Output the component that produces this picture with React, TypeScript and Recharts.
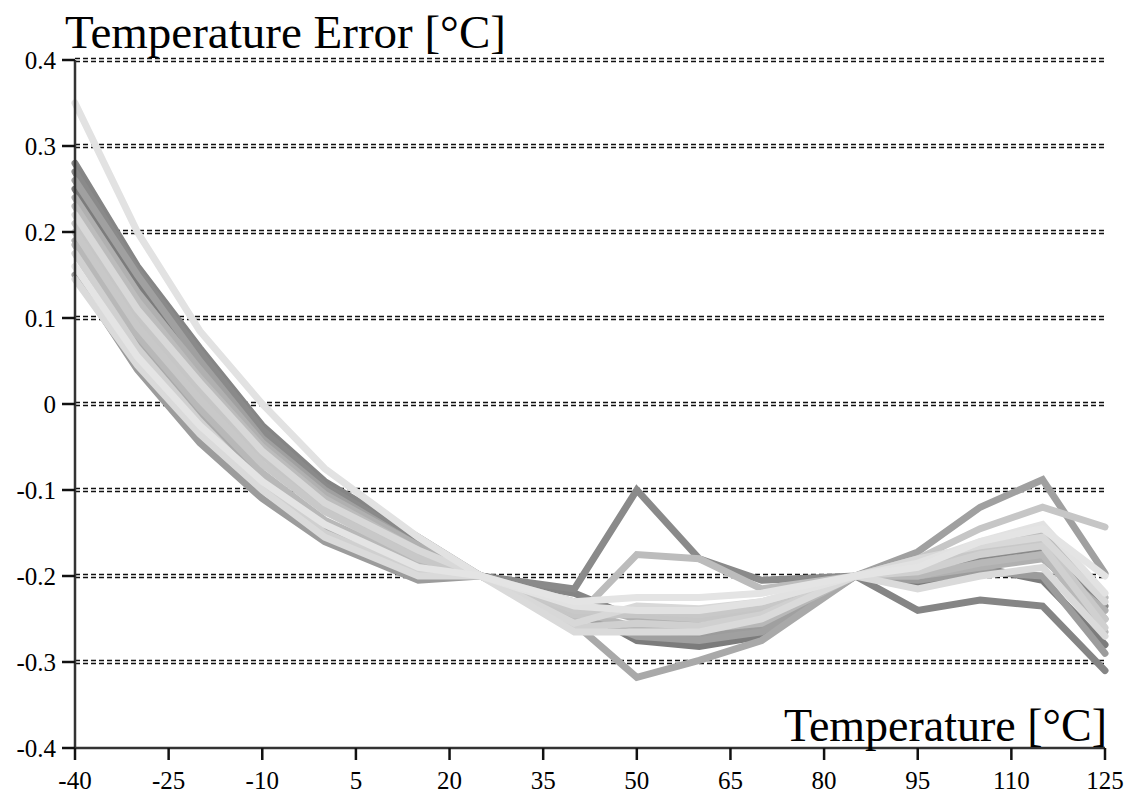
import React from "react";
import { LineChart, Line, XAxis, YAxis, CartesianGrid } from "recharts";

const temps = [-40, -30, -20, -10, 0, 15, 25, 40, 50, 60, 70, 85, 95, 105, 115, 125];
const xTicks = [-40, -25, -10, 5, 20, 35, 50, 65, 80, 95, 110, 125];
const yTicks = [-0.4, -0.3, -0.2, -0.1, 0, 0.1, 0.2, 0.3, 0.4];

// one entry per sensor (°C error at each temp)
const s1 = [0.35, 0.2, 0.085, 0.0, -0.075, -0.155, -0.2, -0.235, -0.24, -0.24, -0.23, -0.2, -0.185, -0.16, -0.14, -0.22];
const s2 = [0.27, 0.155, 0.06, -0.03, -0.095, -0.16, -0.2, -0.215, -0.1, -0.18, -0.205, -0.2, -0.195, -0.18, -0.17, -0.235];
const s3 = [0.19, 0.075, -0.01, -0.085, -0.145, -0.19, -0.2, -0.255, -0.318, -0.298, -0.275, -0.2, -0.2, -0.185, -0.175, -0.25];
const s4 = [0.23, 0.12, 0.03, -0.05, -0.11, -0.17, -0.2, -0.25, -0.175, -0.18, -0.215, -0.2, -0.19, -0.165, -0.15, -0.225];
const s5 = [0.28, 0.16, 0.065, -0.025, -0.09, -0.155, -0.2, -0.22, -0.25, -0.26, -0.255, -0.2, -0.24, -0.228, -0.235, -0.31];
const s6 = [0.26, 0.15, 0.05, -0.04, -0.1, -0.165, -0.2, -0.24, -0.27, -0.275, -0.265, -0.2, -0.172, -0.12, -0.088, -0.197];
const s7 = [0.21, 0.1, 0.015, -0.06, -0.12, -0.175, -0.2, -0.245, -0.245, -0.25, -0.24, -0.2, -0.18, -0.145, -0.12, -0.143];
const s8 = [0.15, 0.04, -0.045, -0.11, -0.16, -0.205, -0.2, -0.245, -0.265, -0.27, -0.26, -0.2, -0.205, -0.195, -0.2, -0.29];
const s9 = [0.25, 0.14, 0.045, -0.04, -0.1, -0.165, -0.2, -0.235, -0.275, -0.282, -0.27, -0.2, -0.21, -0.19, -0.205, -0.28];
const s10 = [0.175, 0.065, -0.02, -0.095, -0.15, -0.195, -0.2, -0.26, -0.255, -0.258, -0.245, -0.2, -0.195, -0.175, -0.165, -0.26];
const s11 = [0.145, 0.045, -0.035, -0.1, -0.155, -0.2, -0.2, -0.265, -0.265, -0.265, -0.25, -0.2, -0.215, -0.2, -0.19, -0.27];
const s12 = [0.24, 0.13, 0.04, -0.045, -0.105, -0.165, -0.2, -0.23, -0.25, -0.255, -0.25, -0.2, -0.2, -0.19, -0.18, -0.24];
const s13 = [0.2, 0.09, 0.005, -0.07, -0.125, -0.18, -0.2, -0.24, -0.24, -0.245, -0.235, -0.2, -0.185, -0.17, -0.16, -0.25];
const s14 = [0.16, 0.055, -0.025, -0.09, -0.14, -0.19, -0.2, -0.23, -0.225, -0.225, -0.22, -0.2, -0.19, -0.16, -0.145, -0.2];
const s15 = [0.185, 0.08, -0.005, -0.08, -0.135, -0.185, -0.2, -0.24, -0.26, -0.262, -0.255, -0.2, -0.2, -0.185, -0.175, -0.265];
const s16 = [0.22, 0.11, 0.025, -0.055, -0.115, -0.17, -0.2, -0.255, -0.235, -0.238, -0.23, -0.2, -0.18, -0.165, -0.155, -0.23];

const SERIES = [
  { key: "s9", vals: s9, color: "#7c7c7c" },
  { key: "s5", vals: s5, color: "#858585" },
  { key: "s2", vals: s2, color: "#8a8a8a" },
  { key: "s8", vals: s8, color: "#9c9c9c" },
  { key: "s6", vals: s6, color: "#a0a0a0" },
  { key: "s3", vals: s3, color: "#a9a9a9" },
  { key: "s12", vals: s12, color: "#b0b0b0" },
  { key: "s15", vals: s15, color: "#b8b8b8" },
  { key: "s4", vals: s4, color: "#bcbcbc" },
  { key: "s7", vals: s7, color: "#c6c6c6" },
  { key: "s13", vals: s13, color: "#c8c8c8" },
  { key: "s10", vals: s10, color: "#d0d0d0" },
  { key: "s16", vals: s16, color: "#d8d8d8" },
  { key: "s11", vals: s11, color: "#dadada" },
  { key: "s1", vals: s1, color: "#e2e2e2" },
  { key: "s14", vals: s14, color: "#e4e4e4" },
];

const data = temps.map((t, i) => {
  const row: Record<string, number> = { t };
  SERIES.forEach(s => { row[s.key] = s.vals[i]; });
  return row;
});

const FONT = "'Liberation Serif', 'Times New Roman', serif";
const FS = 25;

const XTick = ({ x, y, payload }: any) => (
  <text x={x} y={y} dy="0.71em" textAnchor="middle" fontFamily={FONT} fontSize={FS} fill="#000">
    {payload.value}
  </text>
);

const YTick = ({ x, y, payload }: any) => (
  <text x={x} y={y} dy="0.355em" textAnchor="end" fontFamily={FONT} fontSize={FS} fill="#000">
    {payload.value === 0 ? "0" : Number(payload.value).toFixed(1)}
  </text>
);

// grid drawn as a pair of thin dashed lines
const doubleDash = (p: any) => {
  if (p.y1 > 745) return <g key={p.key} />;
  return (
    <g key={p.key}>
      <line x1={p.x1} x2={p.x2} y1={p.y1 - 1.5} y2={p.y2 - 1.5} stroke="#111" strokeWidth={1.5} strokeDasharray="5 3" />
      <line x1={p.x1} x2={p.x2} y1={p.y1 + 1.5} y2={p.y2 + 1.5} stroke="#111" strokeWidth={1.5} strokeDasharray="5 3" />
    </g>
  );
};

export default function App() {
  return (
    <div style={{ position: "absolute", left: 0, top: 0, width: 1127, height: 799, background: "#fff", fontFamily: FONT }}>
      <LineChart width={1127} height={799} data={data} margin={{ top: 60, right: 22, bottom: 21, left: 15 }}>
        <CartesianGrid vertical={false} horizontal={doubleDash} />
        <XAxis dataKey="t" type="number" domain={[-40, 125]} ticks={xTicks} interval={0}
          tick={<XTick />} tickSize={12} tickMargin={11} height={30}
          axisLine={{ stroke: "#333", strokeWidth: 2.5 }} tickLine={{ stroke: "#111", strokeWidth: 2.5 }} />
        <YAxis type="number" domain={[-0.4, 0.4]} ticks={yTicks} interval={0} width={60}
          tick={<YTick />} tickSize={13} tickMargin={6}
          axisLine={{ stroke: "#333", strokeWidth: 2.5 }} tickLine={{ stroke: "#111", strokeWidth: 2.5 }} />
        {SERIES.map(s => (
          <Line key={s.key} dataKey={s.key} type="linear" stroke={s.color} strokeWidth={7}
            strokeLinecap="round" dot={false} activeDot={false} isAnimationActive={false} />
        ))}
      </LineChart>
      <svg width={1127} height={799} style={{ position: "absolute", left: 0, top: 0, pointerEvents: "none" }}>
        <text x={65} y={48} fontFamily={FONT} fontSize={47} fill="#000">Temperature Error [°C]</text>
        <text x={1107} y={741} fontFamily={FONT} fontSize={46} fill="#000" textAnchor="end">Temperature [°C]</text>
      </svg>
    </div>
  );
}
